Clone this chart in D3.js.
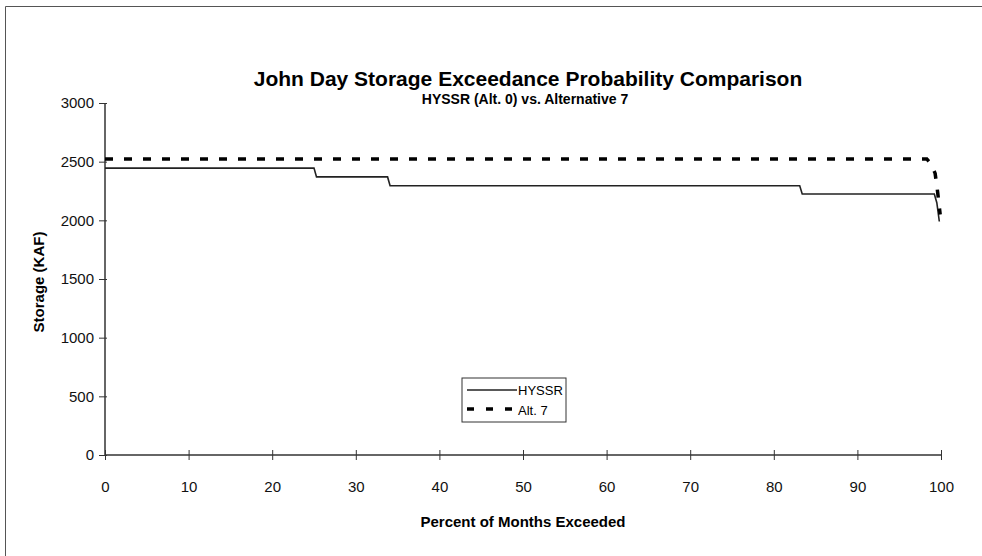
<!DOCTYPE html>
<html>
<head>
<meta charset="utf-8">
<script src="https://cdn.jsdelivr.net/npm/d3@7"></script>
<style>
  body { margin: 0; background: #fff; }
  svg { font-family: "Liberation Sans", Arial, sans-serif; }
</style>
</head>
<body>
<svg id="vis" width="982" height="556"></svg>
<script>
// exceedance (percent of months) and storage (KAF)
const hyssrX = [0, 25, 25.3, 33.8, 34.1, 83.1, 83.4, 99.2, 99.5, 99.8];
const hyssrY = [2445, 2445, 2370, 2370, 2295, 2295, 2225, 2225, 2150, 1990];
const alt7X = [0, 98.3, 98.8, 99.3, 99.6, 99.9];
const alt7Y = [2523, 2523, 2480, 2400, 2240, 2050];
const xTicks = [0, 10, 20, 30, 40, 50, 60, 70, 80, 90, 100];
const yTicks = [0, 500, 1000, 1500, 2000, 2500, 3000];
const seriesNames = ["HYSSR", "Alt. 7"];

function draw() {
    let margin = { top: 103, right: 41, bottom: 101, left: 105 };
    let svg = d3.select("#vis");
    let width = +svg.attr("width") - margin.left - margin.right;
    let height = +svg.attr("height") - margin.top - margin.bottom;

    // page frame
    svg.append("path")
        .attr("d", "M5.5,556 L5.5,6.5 L982,6.5")
        .attr("fill", "none")
        .attr("stroke", "#555")
        .attr("stroke-width", 1);

    svg.append("text")
        .attr("x", 528).attr("y", 86)
        .attr("text-anchor", "middle")
        .attr("font-weight", "bold")
        .attr("font-size", 21)
        .text("John Day Storage Exceedance Probability Comparison");
    svg.append("text")
        .attr("x", 525).attr("y", 104)
        .attr("text-anchor", "middle")
        .attr("font-weight", "bold")
        .attr("font-size", 14)
        .text("HYSSR (Alt. 0) vs. Alternative 7");

    let g = svg.append("g").attr("transform", `translate(${margin.left}, ${margin.top})`);

    let x = d3.scaleLinear().domain([0, 100]).range([0, width]);
    let y = d3.scaleLinear().domain([0, 3000]).range([height, 0]);

    let xAxis = g.append("g")
        .attr("transform", `translate(0, ${height})`)
        .call(d3.axisBottom(x).tickValues(xTicks).tickFormat(d3.format("d")).tickSize(5).tickPadding(21));
    xAxis.selectAll(".tick line").attr("y1", -5).attr("y2", 5);

    let yAxis = g.append("g")
        .call(d3.axisLeft(y).tickValues(yTicks).tickFormat(d3.format("d")).tickSize(6).tickPadding(5));
    yAxis.selectAll(".tick line").attr("x1", 2);

    [xAxis, yAxis].forEach(a => {
        a.select(".domain").attr("stroke", "#333").attr("stroke-width", 1.5);
        a.selectAll(".tick line").attr("stroke", "#333");
        a.selectAll(".tick text")
            .attr("font-size", 15)
            .attr("font-family", "Liberation Sans, Arial, sans-serif")
            .attr("fill", "#111");
    });
    yAxis.select(".domain").attr("d", `M0,${height}V0`);
    xAxis.select(".domain").attr("d", `M0,0H${width}`);

    g.append("text")
        .attr("transform", "rotate(-90)")
        .attr("x", -(height / 2 + 3))
        .attr("y", -61)
        .attr("text-anchor", "middle")
        .attr("font-weight", "bold")
        .attr("font-size", 15)
        .text("Storage (KAF)");

    g.append("text")
        .attr("x", width / 2 + 0)
        .attr("y", height + 72)
        .attr("text-anchor", "middle")
        .attr("font-weight", "bold")
        .attr("font-size", 15)
        .text("Percent of Months Exceeded");

    let line = d3.line()
        .x(d => x(d[0]))
        .y(d => y(d[1]));

    let hyssr = hyssrX.map((v, i) => [v, hyssrY[i]]);
    let alt7 = alt7X.map((v, i) => [v, alt7Y[i]]);

    g.append("path")
        .datum(hyssr)
        .attr("fill", "none")
        .attr("stroke", "#222")
        .attr("stroke-width", 1.6)
        .attr("d", line);

    g.append("path")
        .datum(alt7)
        .attr("fill", "none")
        .attr("stroke", "#000")
        .attr("stroke-width", 3.5)
        .attr("stroke-dasharray", "8,11")
        .attr("d", line);

    // legend
    let lg = svg.append("g").attr("transform", "translate(462, 378)");
    lg.append("rect")
        .attr("width", 104).attr("height", 44)
        .attr("fill", "#fff")
        .attr("stroke", "#333")
        .attr("stroke-width", 1);
    lg.append("line")
        .attr("x1", 5).attr("x2", 55).attr("y1", 12).attr("y2", 12)
        .attr("stroke", "#222").attr("stroke-width", 1.6);
    lg.append("line")
        .attr("x1", 5).attr("x2", 50).attr("y1", 31).attr("y2", 31)
        .attr("stroke", "#000").attr("stroke-width", 3.5)
        .attr("stroke-dasharray", "7,12");
    lg.selectAll(".lt")
        .data(seriesNames)
        .enter().append("text")
            .attr("class", "lt")
            .attr("x", (d, i) => i === 0 ? 56 : 56)
            .attr("y", (d, i) => i === 0 ? 17 : 37)
            .attr("font-size", 13)
            .text(d => d);
}

document.addEventListener('DOMContentLoaded', () => {
    draw();
});
</script>
</body>
</html>
